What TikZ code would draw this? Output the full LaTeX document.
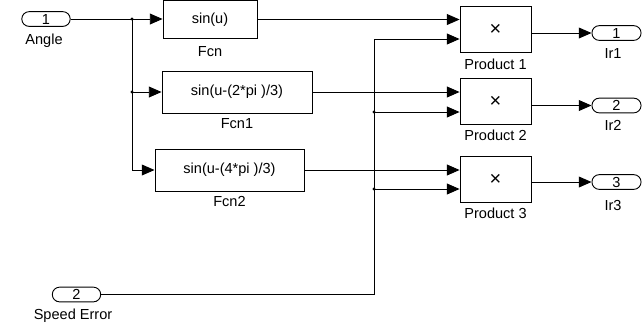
\documentclass[tikz,border=0pt]{standalone}
\usepackage{fontspec}
\setmainfont{Liberation Sans}
\usetikzlibrary{arrows.meta, calc, positioning}

\begin{document}
\begin{tikzpicture}[x=0.55pt, y=-0.55pt, font=\fontsize{8}{9.6}\selectfont,
    blk/.style={draw, line width=0.5pt, inner sep=0pt, minimum height=23.1pt},
    prod/.style={draw, line width=0.5pt, inner sep=0pt, minimum width=39pt, minimum height=25.3pt, font=\fontsize{11}{12}\selectfont},
    port/.style={draw, line width=0.5pt, rounded corners=4pt, inner sep=0pt, minimum width=26.6pt, minimum height=8.1pt},
    lbl/.style={inner sep=0pt},
    wire/.style={line width=0.5pt},
    sig/.style={line width=0.5pt, -{Triangle[length=7pt, width=6pt]}},
    dot/.style={circle, fill, inner sep=0pt, minimum size=1.9pt}]
    \useasboundingbox (0,0) rectangle (644,324);

    % 输入
    \node[port] (angle) at (46,19) {1};
    \node[lbl] (anglelbl) at (44,41) {Angle};
    \node[port] (speed) at (76.5,294.5) {2};
    \node[lbl] (speedlbl) at (73,316) {Speed Error};

    % 函数
    \node[blk, minimum width=51.7pt, minimum height=20.9pt] (fcn) at (210,19.5) {sin(u)};
    \node[lbl] (fcnlbl) at (210,52) {Fcn};
    \node[blk, minimum width=82.5pt] (fcn1) at (237,92) {sin(u-(2*pi )/3)};
    \node[lbl] (fcn1lbl) at (237,124) {Fcn1};
    \node[blk, minimum width=82pt] (fcn2) at (229.5,170) {sin(u-(4*pi )/3)};
    \node[lbl] (fcn2lbl) at (229.5,201) {Fcn2};

    % 乘法
    \node[prod] (p1) at (495.5,29.5) {×};
    \node[lbl] (p1lbl) at (495.5,64) {Product 1};
    \node[prod] (p2) at (495.5,101.5) {×};
    \node[lbl] (p2lbl) at (495.5,135) {Product 2};
    \node[prod] (p3) at (495.5,179.5) {×};
    \node[lbl] (p3lbl) at (495.5,213) {Product 3};

    % 输出
    \node[port, minimum width=27pt] (ir1) at (616.5,33) {1};
    \node[lbl] (ir1lbl) at (613,53) {Ir1};
    \node[port, minimum width=27pt] (ir2) at (616.5,105.5) {2};
    \node[lbl] (ir2lbl) at (613,125) {Ir2};
    \node[port, minimum width=27pt] (ir3) at (616.5,182) {3};
    \node[lbl] (ir3lbl) at (613,205) {Ir3};

    % 分支点
    \coordinate (br1) at (132,19);
    \coordinate (br2) at (132,92);
    \coordinate (bus1) at (374,39);
    \coordinate (bus2) at (374,112);
    \coordinate (bus3) at (374,189);

    % 连线
    \draw[sig] (angle.east) -- (fcn.west |- angle.east);
    \draw[sig] (br1) -- (br2) -- (fcn1.west);
    \draw[sig] (br2) |- (fcn2.west);
    \draw[sig] (fcn.east) -- (p1.west |- fcn.east);
    \draw[sig] (fcn1.east) -- (p2.west |- fcn1.east);
    \draw[sig] (fcn2.east) -- (p3.west |- fcn2.east);
    \draw[sig] (speed.east) -| (bus1) -- (p1.west |- bus1);
    \draw[sig] (bus2) -- (p2.west |- bus2);
    \draw[sig] (bus3) -- (p3.west |- bus3);
    \draw[sig] (p1.east |- ir1) -- (ir1.west);
    \draw[sig] (p2.east |- ir2) -- (ir2.west);
    \draw[sig] (p3.east |- ir3) -- (ir3.west);
    \node[dot] (d1) at (br1) {};
    \node[dot] (d2) at (br2) {};
    \node[dot] (d3) at (bus2) {};
    \node[dot] (d4) at (bus3) {};
\end{tikzpicture}
\end{document}
